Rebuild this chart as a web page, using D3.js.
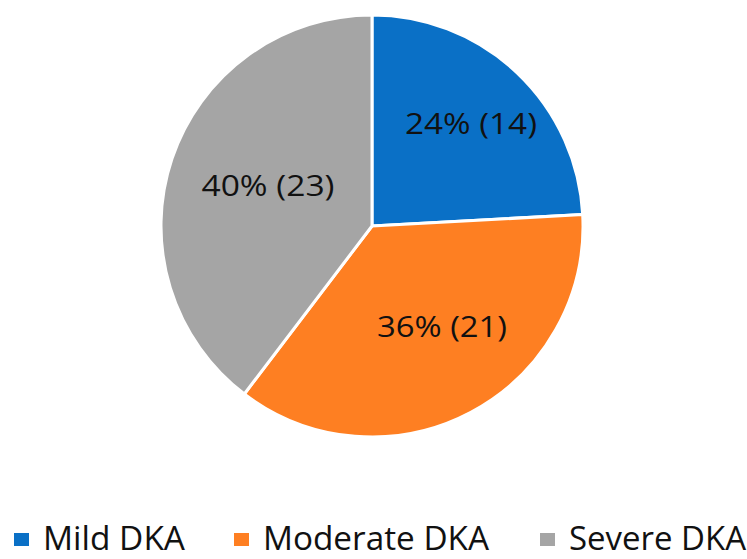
<!DOCTYPE html>
<html><head><meta charset="utf-8">
<script src="https://cdn.jsdelivr.net/npm/d3@7"></script>
<style>body{margin:0;background:#fff;overflow:hidden}svg{display:block}</style>
</head><body>
<svg id="c" width="747" height="559"></svg>
<script>
const categories = ["Mild DKA", "Moderate DKA", "Severe DKA"];
const counts = [14, 21, 23];
const percents = ["24%", "36%", "40%"];
const colors = ["#0A70C6", "#FE7F22", "#A5A5A5"];

const svg = d3.select("#c");
const cx = 372, cy = 226, r = 211;
const data = categories.map((c, i) => ({cat: c, n: counts[i], pct: percents[i], col: colors[i]}));
const pie = d3.pie().value(d => d.n).sort(null);
const arc = d3.arc().innerRadius(0).outerRadius(r);
const arcs = pie(data);
const g = svg.append("g").attr("transform", `translate(${cx},${cy})`);
g.selectAll("path").data(arcs).join("path")
  .attr("d", arc).attr("fill", d => d.data.col)
  .attr("stroke", "#fff").attr("stroke-width", 3).attr("stroke-linejoin", "round");

const labelPos = [[99, -104], [70, 99], [-104, -42]];
const labelW = [132, 130, 133];
g.selectAll("text.lab").data(arcs).join("text").attr("class", "lab")
  .attr("x", (d, i) => labelPos[i][0]).attr("y", (d, i) => labelPos[i][1])
  .attr("text-anchor", "middle").attr("dominant-baseline", "central")
  .attr("font-family", "'Open Sans', sans-serif").attr("font-size", 29)
  .attr("textLength", (d, i) => labelW[i]).attr("lengthAdjust", "spacingAndGlyphs")
  .attr("fill", "#111")
  .text(d => `${d.data.pct} (${d.data.n})`);

const legX = [14, 234, 540];
const legW = [142, 226, 177];
const leg = svg.append("g");
data.forEach((d, i) => {
  leg.append("rect").attr("x", legX[i]).attr("y", 533).attr("width", 15).attr("height", 13).attr("fill", d.col);
  leg.append("text").attr("x", legX[i] + 29).attr("y", 550)
    .attr("font-family", "'Open Sans', sans-serif").attr("font-size", 32).attr("fill", "#111")
    .attr("textLength", legW[i]).attr("lengthAdjust", "spacingAndGlyphs")
    .text(d.cat);
});
</script>
</body></html>
